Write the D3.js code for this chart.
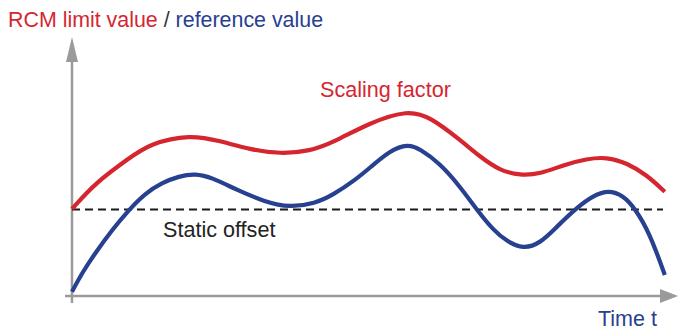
<!DOCTYPE html>
<html>
<head>
<meta charset="utf-8">
<script src="https://cdn.jsdelivr.net/npm/d3@7"></script>
<style>
  html, body { margin: 0; padding: 0; background: #fff; }
  svg { display: block; font-family: "Liberation Sans", Arial, Helvetica, sans-serif; }
</style>
</head>
<body>
<svg id="chart" width="678" height="330"></svg>
<script>
// Time samples (arbitrary units, 0–100) and the two signal curves (0–100)
const timeLimit = [0, 3.9, 9.45, 13, 19.7, 24.7, 29.7, 34.7, 39.7, 43.5, 49.7, 56, 59.7, 64.7, 68, 71.3, 74.7, 78, 81.9, 85.8, 89.1, 92.5, 95.8, 98.8];
const limitValue = [34.8, 45.3, 55, 61, 64.6, 62, 58.6, 56.8, 58, 61.4, 69.4, 74.4, 71.6, 62.4, 55.7, 50.2, 48.2, 48.8, 52.4, 54.9, 55.6, 53.2, 48.4, 41.7];

const timeRef = [0, 1.67, 3.88, 6.67, 9.45, 12.2, 15, 17.8, 20.55, 23.3, 27.5, 32.2, 36.3, 40.5, 43.5, 47.2, 49.7, 53, 56, 58, 61.3, 64.7, 67.5, 70.2, 72.5, 75.2, 78, 80.8, 84.1, 86.9, 89.4, 91.9, 93.8, 96.3, 98.8];
const referenceValue = [1.7, 9.2, 17.2, 26.4, 34.4, 41.1, 45.3, 47.9, 49, 47.4, 42.4, 37.6, 35.4, 37.0, 40.4, 46.4, 51.4, 58.2, 60.8, 58.8, 53.1, 43.7, 34.4, 26.4, 21.8, 18.8, 21.0, 27.7, 35.3, 40.2, 42.4, 40.2, 35.1, 25.1, 8.4];

const staticOffset = 34.6;
const offsetEnd = 98.5;

const RED = "#d52630";
const BLUE = "#27408f";
const AXIS = "#9a9a9a";

const svg = d3.select("#chart");

const x = d3.scaleLinear().domain([0, 100]).range([72, 672]);
const y = d3.scaleLinear().domain([0, 100]).range([296, 46]);

// Axes: plain grey arrows
const axisG = svg.append("g");
axisG.append("line")
  .attr("x1", 65).attr("x2", 662)
  .attr("y1", y(0)).attr("y2", y(0))
  .attr("stroke", AXIS).attr("stroke-width", 2.5);
axisG.append("path")
  .attr("d", `M678,${y(0)} L660,${y(0) - 7} L660,${y(0) + 7} Z`)
  .attr("fill", AXIS);
axisG.append("line")
  .attr("x1", x(0)).attr("x2", x(0))
  .attr("y1", 303).attr("y2", 60)
  .attr("stroke", AXIS).attr("stroke-width", 2.5);
axisG.append("path")
  .attr("d", `M${x(0)},37 L${x(0) - 6},62 L${x(0) + 6},62 Z`)
  .attr("fill", AXIS);

// Static offset (dashed)
svg.append("line")
  .attr("x1", x(0)).attr("x2", x(offsetEnd))
  .attr("y1", y(staticOffset)).attr("y2", y(staticOffset))
  .attr("stroke", "#1a1a1a").attr("stroke-width", 2)
  .attr("stroke-dasharray", "8,5");

// Smooth B-spline through the sampled curve
const line = d3.line()
  .x(d => x(d[0]))
  .y(d => y(d[1]))
  .curve(d3.curveBasis);

svg.append("path")
  .datum(d3.zip(timeLimit, limitValue))
  .attr("d", line)
  .attr("fill", "none")
  .attr("stroke", RED)
  .attr("stroke-width", 4.2);

svg.append("path")
  .datum(d3.zip(timeRef, referenceValue))
  .attr("d", line)
  .attr("fill", "none")
  .attr("stroke", BLUE)
  .attr("stroke-width", 4.2);

// Labels
const title = svg.append("text")
  .attr("x", 8).attr("y", 26.5)
  .attr("font-size", 21.4);
title.append("tspan").attr("fill", RED).text("RCM limit value");
title.append("tspan").attr("fill", "#333").text(" / ");
title.append("tspan").attr("fill", BLUE).text("reference value");

svg.append("text")
  .attr("x", 320).attr("y", 97)
  .attr("font-size", 21.6)
  .attr("fill", RED)
  .text("Scaling factor");

svg.append("text")
  .attr("x", 163).attr("y", 237)
  .attr("font-size", 21.6)
  .attr("fill", "#222")
  .text("Static offset");

svg.append("text")
  .attr("x", 598).attr("y", 326)
  .attr("font-size", 21.5)
  .attr("fill", BLUE)
  .text("Time t");
</script>
</body>
</html>
